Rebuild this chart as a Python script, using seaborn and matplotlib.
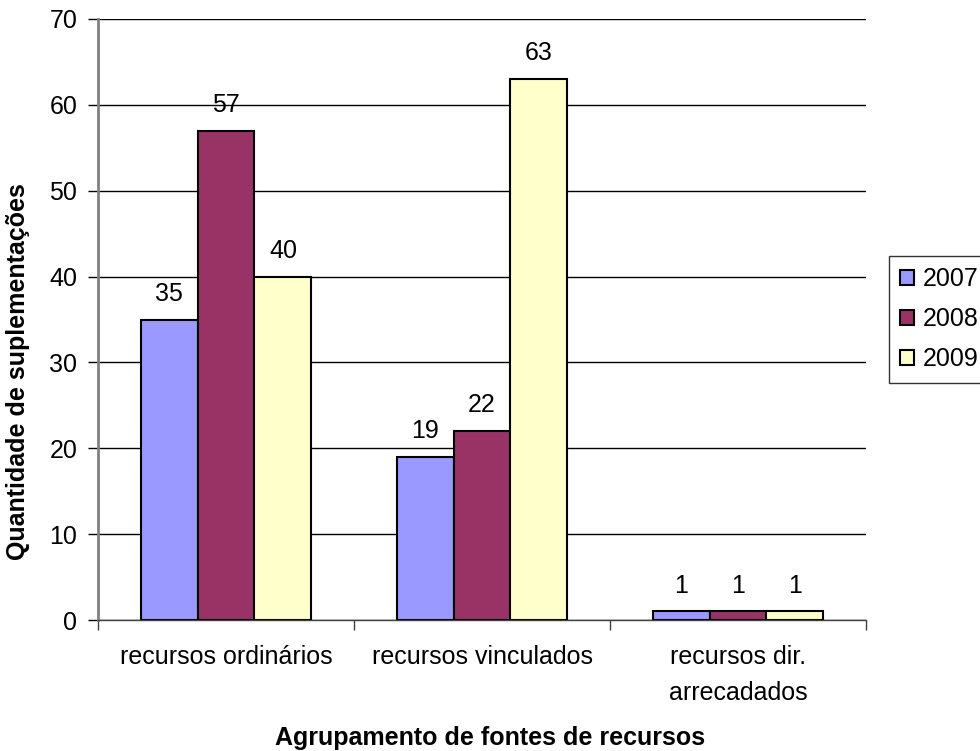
import matplotlib
matplotlib.use("Agg")
import matplotlib.pyplot as plt
import seaborn as sns
import pandas as pd

# Data
categorias = ["recursos ordinários", "recursos vinculados", "recursos dir.\narrecadados"]
anos = ["2007", "2008", "2009"]
valores_2007 = [35, 19, 1]
valores_2008 = [57, 22, 1]
valores_2009 = [40, 63, 1]
cores = ["#9999FF", "#993366", "#FFFFCC"]
y_ticks = [0, 10, 20, 30, 40, 50, 60, 70]

df = pd.DataFrame({
    "categoria": categorias * 3,
    "ano": [a for a in anos for _ in categorias],
    "valor": valores_2007 + valores_2008 + valores_2009,
})

sns.set_theme(style="white")
plt.rcParams["font.family"] = ["Liberation Sans", "DejaVu Sans"]
plt.rcParams["text.color"] = "black"
plt.rcParams["axes.labelcolor"] = "black"

FS = 18

fig = plt.figure(figsize=(9.8, 7.51), dpi=100)
ax = fig.add_axes([98 / 980, 1 - 620 / 751, (866 - 98) / 980, (620 - 19) / 751])

sns.barplot(data=df, x="categoria", y="valor", hue="ano", palette=cores,
            width=0.667, edgecolor="black", linewidth=1.5, saturation=1,
            ax=ax, legend=True)

# value labels above each bar
for cont in ax.containers:
    ax.bar_label(cont, labels=[f"{int(v)}" for v in cont.datavalues],
                 padding=10, fontsize=FS, color="black")

ax.set_ylim(0, 70)
ax.set_xlim(-0.5, 2.5)
ax.set_yticks(y_ticks)
ax.yaxis.grid(True, color="black", linewidth=1)
ax.set_axisbelow(True)

# Axes styling
for s in ["top", "right"]:
    ax.spines[s].set_visible(False)
ax.spines["left"].set_color("#808080")
ax.spines["left"].set_linewidth(2)
ax.spines["bottom"].set_color("#404040")
ax.spines["bottom"].set_linewidth(1)

ax.tick_params(axis="y", which="major", left=True, length=7, width=1,
               color="black", labelsize=FS, pad=8, labelcolor="black")
ax.set_xticks([0, 1, 2])
ax.set_xticklabels(categorias, fontsize=FS, color="black", linespacing=1.65)
ax.tick_params(axis="x", which="major", length=0, pad=18)
ax.set_xticks([-0.5, 0.5, 1.5, 2.5], minor=True)
ax.tick_params(axis="x", which="minor", bottom=True, length=7, width=1,
               color="#404040")

ax.set_xlabel("Agrupamento de fontes de recursos", fontsize=FS,
              fontweight="bold", color="black")
ax.xaxis.set_label_coords((490 - 98) / 768, (620 - 738) / 601)
ax.xaxis.label.set_va("center")
ax.set_ylabel("Quantidade de suplementações", fontsize=FS,
              fontweight="bold", color="black")
ax.yaxis.set_label_coords((18 - 98) / 768, (620 - 372) / 601)
ax.yaxis.label.set_va("center")

# Legend at the right side of the figure
handles, labels = ax.get_legend_handles_labels()
ax.get_legend().remove()
leg = fig.legend(handles, labels, loc="upper left",
                 bbox_to_anchor=(889 / 980, 1 - 256 / 751),
                 frameon=True, fancybox=False, fontsize=FS,
                 labelcolor="black",
                 handlelength=0.55, handleheight=0.55, handletextpad=0.35,
                 labelspacing=0.64, borderpad=0.45, borderaxespad=0)
leg.get_frame().set_edgecolor("black")
leg.get_frame().set_linewidth(1)

fig.savefig("out.png", dpi=100)
